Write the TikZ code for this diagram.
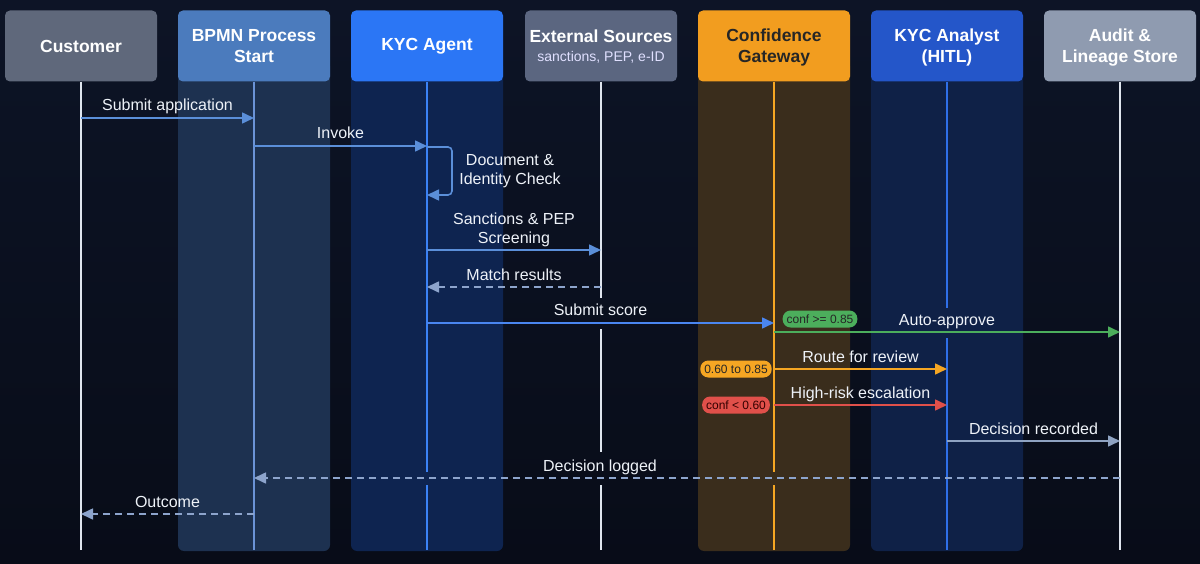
\documentclass[tikz,border=0pt]{standalone}
\usepackage{fontspec}
\setmainfont{Liberation Sans}
\usetikzlibrary{arrows.meta}
\definecolor{bgtop}{HTML}{0D1426}
\definecolor{bgbot}{HTML}{080C18}
\definecolor{hCust}{HTML}{5F687B}
\definecolor{hBpmn}{HTML}{4B7BBD}
\definecolor{hKyc}{HTML}{2B76F5}
\definecolor{hExt}{HTML}{5B6680}
\definecolor{hConf}{HTML}{F29D1F}
\definecolor{hAna}{HTML}{2456C9}
\definecolor{hAud}{HTML}{8F9BB0}
\definecolor{lBpmn}{HTML}{1D3150}
\definecolor{lKyc}{HTML}{0E2450}
\definecolor{lConf}{HTML}{3A2D1C}
\definecolor{lAna}{HTML}{0F2147}
\definecolor{llWhite}{HTML}{DFE5EE}
\definecolor{llBpmn}{HTML}{6B93D6}
\definecolor{llKyc}{HTML}{3B82F6}
\definecolor{llConf}{HTML}{F5A623}
\definecolor{llAna}{HTML}{2F6FE8}
\definecolor{mBlue}{HTML}{5B8FD9}
\definecolor{mBlue2}{HTML}{4A86F0}
\definecolor{mDash}{HTML}{8DA4CC}
\definecolor{mGreen}{HTML}{4CAE5C}
\definecolor{mOrange}{HTML}{F5A623}
\definecolor{mRed}{HTML}{E0504A}
\definecolor{mGray}{HTML}{8FA3C2}
\definecolor{txt}{HTML}{EEF2F8}
\tikzset{
  hdr/.style={rounded corners=5pt, minimum width=152pt, minimum height=71pt, inner sep=0pt,
    text=white, align=center, font=\bfseries\fontsize{17.5}{21}\selectfont},
  lane/.style={rounded corners=6pt},
  life/.style={line width=2pt},
  msg/.style={line width=1.6pt, -{Triangle[length=12pt,width=11pt]}},
  dmsg/.style={msg, dash pattern=on 7pt off 5pt},
  lbl/.style={text=txt, font=\fontsize{16}{19}\selectfont, align=center, inner sep=0pt},
  pill/.style={rounded corners=8pt, minimum height=17pt, inner xsep=4pt, inner ysep=0pt,
    font=\fontsize{12}{14}\selectfont}
}
\begin{document}
\begin{tikzpicture}[x=1pt,y=-1pt]
\useasboundingbox (0,0) rectangle (1200,564);
\shade[top color=bgtop, bottom color=bgbot] (0,0) rectangle (1200,564);
% lanes
\fill[lane, lBpmn] (178,60) rectangle (330,551);
\fill[lane, lKyc] (351,60) rectangle (503,551);
\fill[lane, lConf] (698,60) rectangle (850,551);
\fill[lane, lAna] (871,60) rectangle (1023,551);
% headers
\node[hdr, fill=hCust] (cust) at (81,46) {Customer};
\node[hdr, fill=hBpmn] (bpmn) at (254,46) {};
\node[hdr, fill=hKyc] (kyc) at (427,46) {KYC Agent};
\node[hdr, fill=hExt] (ext) at (601,46) {};
\node[hdr, fill=hConf] (conf) at (774,46) {};
\node[hdr, fill=hAna] (ana) at (947,46) {};
\node[hdr, fill=hAud] (aud) at (1120,46) {};
\node[hdr, minimum height=0pt, anchor=base] (bpmnT) at (254,63) {BPMN Process\\Start};
\node[hdr, minimum height=0pt, anchor=base, text=black!85] (confT) at (774,63) {Confidence\\Gateway};
\node[hdr, minimum height=0pt, anchor=base] (anaT) at (947,63) {KYC Analyst\\(HITL)};
\node[hdr, minimum height=0pt, anchor=base] (audT) at (1120,63) {Audit \&\\Lineage Store};
\node[hdr, minimum height=0pt, anchor=base] (extT) at (601,43) {External Sources};
\node[text=white!88!blue, font=\fontsize{14}{16}\selectfont, inner sep=0pt, anchor=base] (extS) at (601,62) {sanctions, PEP, e-ID};
% lifelines
\draw[life, llWhite] (cust.south) -- (cust |- 0,550);
\draw[life, llBpmn] (bpmn.south) -- (bpmn |- 0,550);
\draw[life, llKyc] (kyc.south) -- (kyc |- 0,472) (kyc |- 0,485) -- (kyc |- 0,550);
\draw[life, llWhite] (ext.south) -- (ext |- 0,298) (ext |- 0,329) -- (ext |- 0,452) (ext |- 0,485) -- (ext |- 0,550);
\draw[life, llConf] (conf.south) -- (conf |- 0,472) (conf |- 0,485) -- (conf |- 0,550);
\draw[life, llAna] (ana.south) -- (ana |- 0,308) (ana |- 0,338) -- (ana |- 0,550);
\draw[life, llWhite] (aud.south) -- (aud |- 0,550);
% messages
\draw[msg, mBlue] (cust |- 0,118) -- (bpmn |- 0,118) node[lbl, midway, anchor=base, yshift=7pt] {Submit application};
\draw[msg, mBlue] (bpmn |- 0,146) -- (kyc |- 0,146) node[lbl, midway, anchor=base, yshift=7pt] {Invoke};
\draw[msg, mBlue, rounded corners=4pt] (kyc |- 0,147) -- (452,147) -- (452,195) -- (kyc |- 0,195);
\node[lbl] (doc) at (510,171) {Document \&\\Identity Check};
\draw[msg, mBlue] (kyc |- 0,250) -- (ext |- 0,250) node[lbl, midway, anchor=base, yshift=6pt] {Sanctions \& PEP\\Screening};
\draw[dmsg, mDash] (ext |- 0,287) -- (kyc |- 0,287) node[lbl, midway, anchor=base, yshift=7pt] {Match results};
\draw[msg, mBlue2] (kyc |- 0,323) -- (conf |- 0,323) node[lbl, midway, anchor=base, yshift=7pt] {Submit score};
\draw[msg, mGreen] (conf |- 0,332) -- (aud |- 0,332) node[lbl, midway, anchor=base, yshift=7pt] {Auto-approve};
\node[pill, fill=mGreen, text=black!85] (p1) at (820,319) {conf >= 0.85};
\draw[msg, mOrange] (conf |- 0,369) -- (ana |- 0,369) node[lbl, midway, anchor=base, yshift=7pt] {Route for review};
\node[pill, fill=mOrange, text=black!85] (p2) at (736,369) {0.60 to 0.85};
\draw[msg, mRed] (conf |- 0,405) -- (ana |- 0,405) node[lbl, midway, anchor=base, yshift=7pt] {High-risk escalation};
\node[pill, fill=mRed, text=black!80!red] (p3) at (736,405) {conf < 0.60};
\draw[msg, mGray] (ana |- 0,441) -- (aud |- 0,441) node[lbl, midway, anchor=base, yshift=7pt] {Decision recorded};
\draw[dmsg, mDash] (aud |- 0,478) -- (bpmn |- 0,478);
\node[lbl, anchor=base] (dl) at (600,471) {Decision logged};
\draw[dmsg, mDash] (bpmn |- 0,514) -- (cust |- 0,514) node[lbl, midway, anchor=base, yshift=7pt] {Outcome};
\end{tikzpicture}
\end{document}
